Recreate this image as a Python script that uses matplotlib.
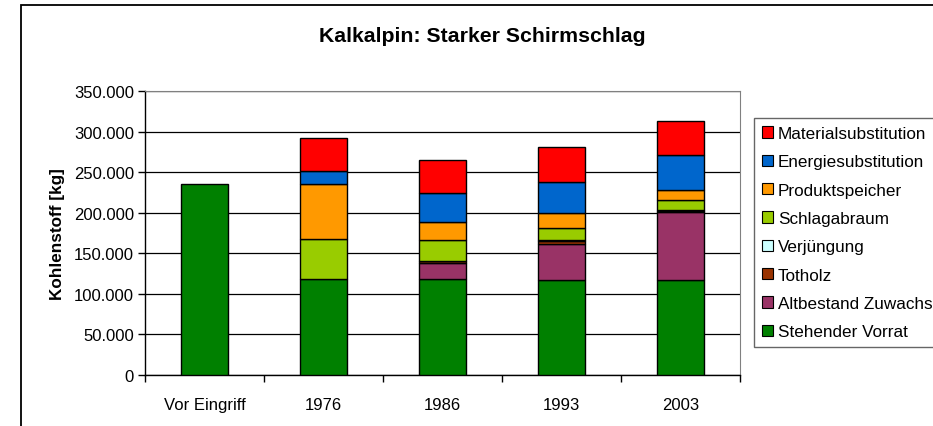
import numpy as np
import matplotlib
matplotlib.use("Agg")
import matplotlib.pyplot as plt
from matplotlib.patches import Patch, Rectangle
from matplotlib.ticker import FuncFormatter, MultipleLocator

plt.rcParams['font.family'] = ['Liberation Sans', 'DejaVu Sans']

categories = ['Vor Eingriff', '1976', '1986', '1993', '2003']

# stacked from bottom to top
stehender_vorrat = [235000, 117700, 117700, 117500, 117500]
altbestand_zuwachs = [0, 0, 20000, 44500, 84000]
totholz = [0, 0, 3000, 3500, 1200]
verjuengung = [0, 0, 300, 400, 500]
schlagabraum = [0, 50000, 25000, 15700, 12000]
produktspeicher = [0, 68000, 23000, 18200, 13000]
energiesubstitution = [0, 15600, 35000, 38400, 43000]
materialsubstitution = [0, 41000, 41600, 43000, 42000]

series = [
    ('Stehender Vorrat', stehender_vorrat, '#008000'),
    ('Altbestand Zuwachs', altbestand_zuwachs, '#993366'),
    ('Totholz', totholz, '#993300'),
    ('Verjüngung', verjuengung, '#CCFFFF'),
    ('Schlagabraum', schlagabraum, '#99CC00'),
    ('Produktspeicher', produktspeicher, '#FF9900'),
    ('Energiesubstitution', energiesubstitution, '#0066CC'),
    ('Materialsubstitution', materialsubstitution, '#FF0000'),
]

W, H = 933, 427
fig = plt.figure(figsize=(W / 100, H / 100), dpi=100)

# outer chart border
fig.patches.append(Rectangle((20.5 / W, -0.1), 1.2, (H - 5.7) / H + 0.1,
                             transform=fig.transFigure, fill=False,
                             edgecolor='black', linewidth=1.3, zorder=0))

ax = fig.add_axes([145 / W, (H - 375.7) / H, 595 / W, 283.4 / H])

ind = np.arange(len(categories))
bottom = np.zeros(len(categories))
for name, vals, col in series:
    v = np.array(vals, dtype=float)
    lw = np.where(v > 0, 1.0, 0.0)
    ax.bar(ind, v, 0.4, bottom=bottom, color=col, edgecolor='black',
           linewidth=lw, label=name, zorder=3)
    bottom += v

ax.set_xlim(-0.5, len(categories) - 0.5)
ax.set_ylim(0, 350000)
ax.yaxis.set_major_locator(MultipleLocator(50000))
ax.yaxis.set_major_formatter(FuncFormatter(lambda v, p: f"{int(v):,}".replace(',', '.')))
ax.grid(axis='y', color='black', linewidth=0.9, zorder=0)

ax.set_xticks(ind)
ax.set_xticklabels(categories)
ax.set_xticks(np.arange(-0.5, len(categories)), minor=True)
ax.tick_params(axis='x', which='major', length=0, pad=16, labelsize=12)
ax.tick_params(axis='x', which='minor', length=5, width=1, direction='out')
ax.tick_params(axis='y', length=5, width=1, direction='out', labelsize=12, pad=3)

for s in ['top', 'right']:
    ax.spines[s].set_color('#808080')
for s in ['left', 'bottom']:
    ax.spines[s].set_color('black')
    ax.spines[s].set_linewidth(1.0)

ax.set_ylabel('Kohlenstoff [kg]', fontsize=12.3, fontweight='bold', labelpad=6)
fig.text(482.5 / W, 1 - 36 / H, 'Kalkalpin: Starker Schirmschlag', ha='center',
         va='center', fontsize=15.3, fontweight='bold')

handles = [Patch(facecolor=c, edgecolor='black', linewidth=0.8, label=n)
           for n, v, c in reversed(series)]
leg = fig.legend(handles=handles, loc='upper left',
                 bbox_to_anchor=(754 / W, 1 - 119.3 / H), fontsize=12.3,
                 frameon=True, fancybox=False, handlelength=0.65,
                 handleheight=0.65, handletextpad=0.3, labelspacing=0.78,
                 borderpad=0.45, borderaxespad=0)
leg.get_frame().set_edgecolor('#404040')
leg.get_frame().set_linewidth(1.0)

fig.savefig('out.png', dpi=100)
